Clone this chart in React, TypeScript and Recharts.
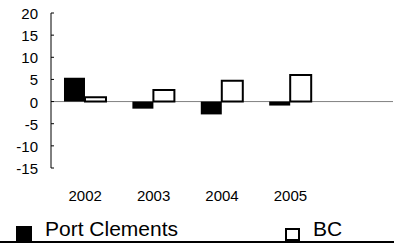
import React from 'react';
import { BarChart, Bar, XAxis, YAxis, ReferenceLine, Legend } from 'recharts';

const years = ['2002', '2003', '2004', '2005', ''];
const portClements = [5.4, -1.6, -2.9, -0.9, null];
const bc = [1.0, 2.6, 4.7, 6.0, null];
const yTicks = [-15, -10, -5, 0, 5, 10, 15, 20];

const data = years.map((year, i) => ({
  year,
  portClements: portClements[i],
  bc: bc[i],
}));

const FONT = '"Liberation Sans", Arial, sans-serif';

const YTick = (props: any) => {
  const { x, y, payload } = props;
  return (
    <g>
      <line x1={x + 13} x2={x + 16} y1={y} y2={y} stroke="#000" strokeWidth={1} />
      <text x={x} y={y} dy={6} textAnchor="end" fontSize={15} fontFamily={FONT} fill="#000">
        {payload.value}
      </text>
    </g>
  );
};

const LegendBox = () => (
  <div
    style={{
      position: 'relative',
      width: 394,
      height: 28,
      boxSizing: 'border-box',
      borderBottom: '2px solid #000',
      fontFamily: FONT,
      fontSize: 21,
      lineHeight: '21px',
      color: '#000',
    }}
  >
    <div style={{ position: 'absolute', left: 16, top: 11, width: 16, height: 15, background: '#000' }} />
    <span style={{ position: 'absolute', left: 45, top: 3 }}>Port Clements</span>
    <div
      style={{
        position: 'absolute',
        left: 285,
        top: 13,
        width: 15,
        height: 13,
        boxSizing: 'border-box',
        border: '2px solid #000',
        background: '#fff',
      }}
    />
    <span style={{ position: 'absolute', left: 313, top: 3 }}>BC</span>
  </div>
);

export default function App() {
  return (
    <div style={{ position: 'absolute', left: 0, top: 0 }}>
      <BarChart
        width={394}
        height={243}
        data={data}
        margin={{ top: 13, right: 1, left: 0, bottom: 0 }}
        barCategoryGap="19%"
        barGap={0}
      >
        <YAxis
          domain={[-15, 20]}
          ticks={yTicks}
          width={51}
          axisLine={{ stroke: '#000', strokeWidth: 1 }}
          tickLine={false}
          tickSize={0}
          tickMargin={13}
          tick={<YTick />}
          interval={0}
        />
        <XAxis
          dataKey="year"
          height={47}
          axisLine={false}
          tickLine={false}
          tickSize={0}
          tickMargin={22}
          interval={0}
          tick={{ fontSize: 15, fontFamily: FONT, fill: '#000' }}
        />
        <ReferenceLine y={0} stroke="#808080" strokeWidth={1} zIndex={100} />
        <Bar dataKey="portClements" name="Port Clements" fill="#000" isAnimationActive={false} />
        <Bar dataKey="bc" name="BC" fill="#fff" stroke="#000" strokeWidth={2} isAnimationActive={false} />
        <Legend verticalAlign="bottom" height={28} content={<LegendBox />} wrapperStyle={{ left: 0, width: 394, height: 28 }} />
      </BarChart>
    </div>
  );
}
